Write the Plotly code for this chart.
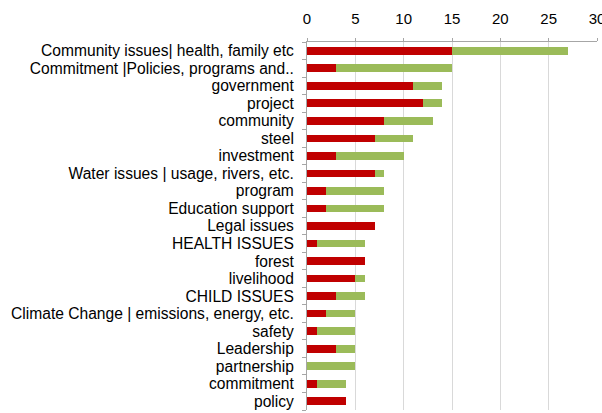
import plotly.graph_objects as go

categories = [
    "Community issues| health, family etc",
    "Commitment |Policies, programs and..",
    "government",
    "project",
    "community",
    "steel",
    "investment",
    "Water issues | usage, rivers, etc.",
    "program",
    "Education support",
    "Legal issues",
    "HEALTH ISSUES",
    "forest",
    "livelihood",
    "CHILD ISSUES",
    "Climate Change | emissions, energy, etc.",
    "safety",
    "Leadership",
    "partnership",
    "commitment",
    "policy",
]
red_values = [15, 3, 11, 12, 8, 7, 3, 7, 2, 2, 7, 1, 6, 5, 3, 2, 1, 3, 0, 1, 4]
green_values = [12, 12, 3, 2, 5, 4, 7, 1, 6, 6, 0, 5, 0, 1, 3, 3, 4, 2, 5, 3, 0]
x_ticks = [0, 5, 10, 15, 20, 25, 30]

fig = go.Figure()
fig.add_trace(go.Bar(y=categories, x=red_values, orientation="h",
                     marker=dict(color="#C00000", line=dict(width=0)), name="red"))
fig.add_trace(go.Bar(y=categories, x=green_values, orientation="h",
                     marker=dict(color="#9BBB59", line=dict(width=0)), name="green"))

fig.update_layout(
    barmode="stack",
    bargap=0.56,
    width=602, height=413,
    margin=dict(l=307, r=5, t=42, b=3, autoexpand=False),
    paper_bgcolor="white", plot_bgcolor="white",
    showlegend=False,
    font=dict(family="Liberation Sans, Arial, sans-serif", size=15.6, color="#000000"),
    xaxis=dict(side="top", range=[0, 30], tickvals=x_ticks, showgrid=True,
               gridcolor="#D9D9D9", gridwidth=1, showline=True, linecolor="#A6A6A6",
               ticks="outside", ticklen=3, tickcolor="#A6A6A6", zeroline=False,
               tickfont=dict(size=15), automargin=False, ticklabeloverflow="allow",
               ticklabelstandoff=8),
    yaxis=dict(autorange="reversed", showline=True, linecolor="#A6A6A6",
               ticks="outside", ticklen=4, tickcolor="#A6A6A6", tickson="boundaries",
               tickmode="array", tickvals=categories, ticktext=categories,
               tickfont=dict(size=15.6), showgrid=False, automargin=False,
               ticklabelstandoff=9),
)

fig.write_html("out.html", post_script="document.body.style.margin='0';",
               config={"displayModeBar": False})
